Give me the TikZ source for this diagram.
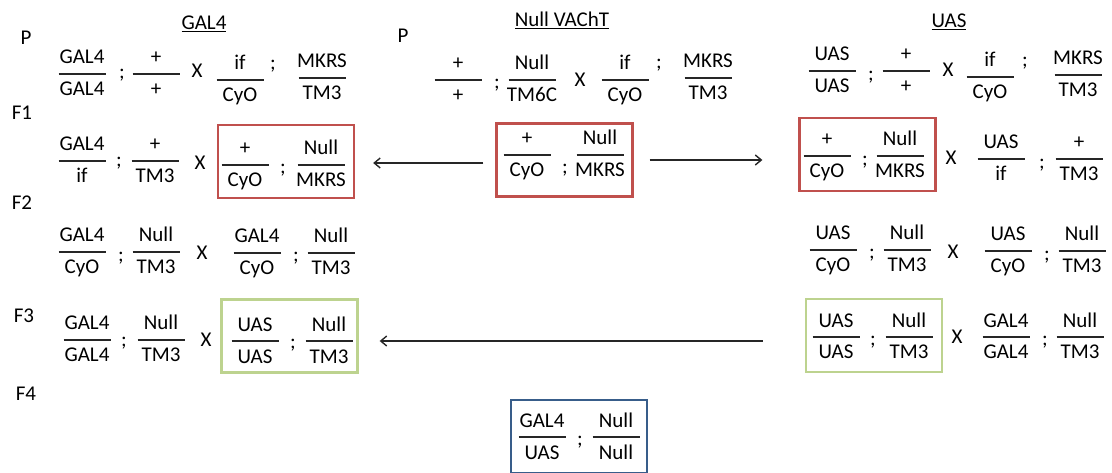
\documentclass[tikz,border=0pt]{standalone}
\usepackage{fontspec}
\setmainfont{Carlito}
\usetikzlibrary{
	positioning,
	arrows.meta
}

\definecolor{crossred}{HTML}{C0504D}
\definecolor{crossgreen}{HTML}{BDD38F}
\definecolor{crossblue}{HTML}{385D8A}

\tikzset{
	allele/.style={inner sep=0pt, anchor=base},
	fracbar/.style={line width=1.8pt, black!85},
	semi/.style={inner sep=0pt},
	cross/.style={inner sep=0pt},
	gen/.style={inner sep=0pt, anchor=base},
	pairbox/.style={draw, line width=2.3pt, minimum width=136pt, minimum height=73pt, inner sep=0pt},
	arr/.style={-{Straight Barb[length=6pt,width=10pt]}, line width=1.4pt, black!85}
}

% one chromosome pair: name, x, y of the bar, upper and lower allele
\newcommand{\geno}[5]{%
	\coordinate (#1) at (#2,#3);
	\draw[fracbar] ([xshift=-23.5pt]#1) -- ([xshift=23.5pt]#1);
	\node[allele] (#1-n) at ([yshift=10pt]#1) {#4};
	\node[allele] (#1-d) at ([yshift=-22pt]#1) {#5};
}

\begin{document}
\begin{tikzpicture}[x=1pt, y=-1pt, font=\fontsize{21}{25}\selectfont]
	\useasboundingbox (0,0) rectangle (1112,473);

	% headers and generations
	\node[gen] (hgal) at (204,30) {\underline{GAL4}};
	\node[gen] (hnull) at (562,27) {\underline{Null VAChT}};
	\node[gen] (huas) at (949,28) {\underline{UAS}};
	\node[gen] (gp1) at (26,45) {P};
	\node[gen] (gp2) at (403,43) {P};
	\node[gen] (gf1) at (22,120) {F1};
	\node[gen] (gf2) at (22,210) {F2};
	\node[gen] (gf3) at (24,323) {F3};
	\node[gen] (gf4) at (26,400) {F4};

	% boxes
	\node[pairbox, draw=crossred] (f1l) at (286,161.5) {};
	\node[pairbox, draw=crossred] (f1m) at (564.5,160) {};
	\node[pairbox, draw=crossred] (f1r) at (867.5,154.5) {};
	\node[pairbox, draw=crossgreen] (f3l) at (289.5,336) {};
	\node[pairbox, draw=crossgreen] (f3r) at (874,335.5) {};
	\node[pairbox, draw=crossblue] (f4) at (579,436.5) {};

	% P
	\geno{pa1}{82}{74}{GAL4}{GAL4}
	\node[semi] (pas1) at (122,75) {;};
	\geno{pa2}{156}{74}{+}{+}
	\node[cross] (pax) at (197,71) {X};
	\geno{pa3}{240}{80}{if}{CyO}
	\node[semi] (pas2) at (273,66) {;};
	\geno{pa4}{322}{78}{MKRS}{TM3}

	\geno{pb1}{458}{80}{+}{+}
	\node[semi] (pbs1) at (497,85) {;};
	\geno{pb2}{532}{80}{Null}{TM6C}
	\node[cross] (pbx) at (580,80) {X};
	\geno{pb3}{625}{80}{if}{CyO}
	\node[semi] (pbs2) at (659,65) {;};
	\geno{pb4}{708}{78}{MKRS}{TM3}

	\geno{pc1}{832}{71}{UAS}{UAS}
	\node[semi] (pcs1) at (871,77) {;};
	\geno{pc2}{906}{71}{+}{+}
	\node[cross] (pcx) at (948,70) {X};
	\geno{pc3}{990}{77}{if}{CyO}
	\node[semi] (pcs2) at (1025,63) {;};
	\geno{pc4}{1078}{75}{MKRS}{TM3}

	% F1
	\geno{fa1}{82}{161}{GAL4}{if}
	\node[semi] (fas1) at (119,163) {;};
	\geno{fa2}{155}{161}{+}{TM3}
	\node[cross] (fax) at (200,163) {X};
	\geno{fa3}{245}{165}{+}{CyO}
	\node[semi] (fas2) at (283,170) {;};
	\geno{fa4}{321}{165}{Null}{MKRS}

	\geno{fb1}{527}{155}{+}{CyO}
	\node[semi] (fbs1) at (565,170) {;};
	\geno{fb2}{600}{155}{Null}{MKRS}

	\geno{fc1}{827}{156}{+}{CyO}
	\node[semi] (fcs1) at (865,162) {;};
	\geno{fc2}{900}{156}{Null}{MKRS}
	\node[cross] (fcx) at (951,158) {X};
	\geno{fc3}{1001}{159}{UAS}{if}
	\node[semi] (fcs2) at (1042,165) {;};
	\geno{fc4}{1079}{159}{+}{TM3}

	% F2
	\geno{ga1}{82}{252}{GAL4}{CyO}
	\node[semi] (gas1) at (121,258) {;};
	\geno{ga2}{156}{252}{Null}{TM3}
	\node[cross] (gax) at (202,253) {X};
	\geno{ga3}{257}{253}{GAL4}{CyO}
	\node[semi] (gas2) at (296,258) {;};
	\geno{ga4}{331}{253}{Null}{TM3}

	\geno{gc1}{833}{250}{UAS}{CyO}
	\node[semi] (gcs1) at (872,255) {;};
	\geno{gc2}{907}{250}{Null}{TM3}
	\node[cross] (gcx) at (953,252) {X};
	\geno{gc3}{1008}{251}{UAS}{CyO}
	\node[semi] (gcs2) at (1047,257) {;};
	\geno{gc4}{1082}{251}{Null}{TM3}

	% F3
	\geno{ha1}{87}{340}{GAL4}{GAL4}
	\node[semi] (has1) at (124,343) {;};
	\geno{ha2}{161}{340}{Null}{TM3}
	\node[cross] (hax) at (206,340) {X};
	\geno{ha3}{255}{341}{UAS}{UAS}
	\node[semi] (has2) at (293,345) {;};
	\geno{ha4}{329}{341}{Null}{TM3}

	\geno{hc1}{836}{337}{UAS}{UAS}
	\node[semi] (hcs1) at (873,342) {;};
	\geno{hc2}{909}{337}{Null}{TM3}
	\node[cross] (hcx) at (957,337) {X};
	\geno{hc3}{1006}{337}{GAL4}{GAL4}
	\node[semi] (hcs2) at (1045,342) {;};
	\geno{hc4}{1080}{337}{Null}{TM3}

	% F4
	\geno{i1}{542}{437}{GAL4}{UAS}
	\node[semi] (is1) at (580,442) {;};
	\geno{i2}{616}{437}{Null}{Null}

	% crosses
	\draw[arr] ([shift={(-12,3)}]f1m.west) -- ([shift={(18,1.5)}]f1l.east);
	\draw[arr] ([xshift=16pt]f1m.east) -- ([shift={(-36,5.5)}]f1r.west);
	\draw[arr] ([shift={(-42,5.5)}]f3r.west) -- ([shift={(21,5)}]f3l.east);
\end{tikzpicture}
\end{document}
